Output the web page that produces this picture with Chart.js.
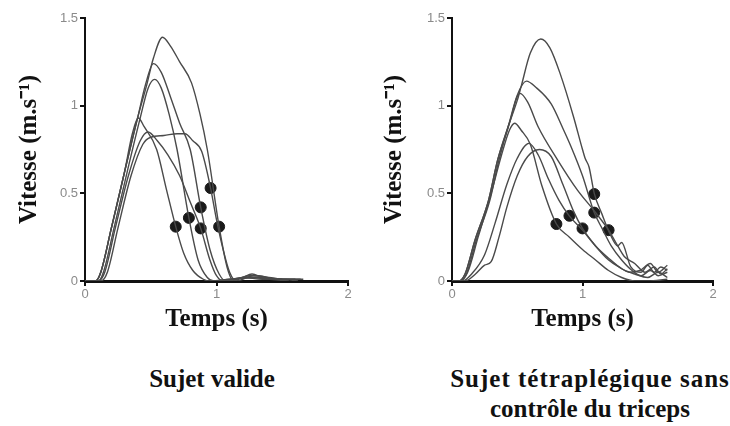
<!DOCTYPE html>
<html>
<head>
<meta charset="utf-8">
<script src="https://cdn.jsdelivr.net/npm/chart.js"></script>
<style>
  body { margin: 0; background: #fff; width: 730px; height: 426px; position: relative; overflow: hidden; }
  .panel { position: absolute; top: 0; width: 365px; height: 345px; }
  .caption { position: absolute; font-family: "Liberation Serif", serif; font-weight: bold; font-size: 25px;
             color: #111; text-align: center; line-height: 30px; white-space: nowrap; }
</style>
</head>
<body>
<div class="panel" style="left:0"><canvas id="chartValide"></canvas></div>
<div class="panel" style="left:365px"><canvas id="chartTetra"></canvas></div>
<div class="caption" style="left:92px; top:364px; width:240px;">Sujet valide</div>
<div class="caption" style="left:430px; top:364px; width:320px;"><span style="letter-spacing:1px">Sujet tétraplégique sans</span><br>contrôle du triceps</div>
<script>
// axis ticks
var xTicks = [0, 1, 2];
var yTicks = [0, 0.5, 1, 1.5];

// Sujet valide : [temps (s), vitesse (m/s)]
var valide1 = [[0,0],[0.08,0],[0.12,0.05],[0.2,0.3],[0.3,0.62],[0.4,0.93],[0.47,1.12],[0.52,1.27],[0.59,1.39],[0.65,1.34],[0.72,1.25],[0.81,1.13],[0.875,0.95],[0.93,0.75],[1.02,0.31],[1.08,0.08],[1.13,0],[1.2,0.02],[1.27,0.04],[1.35,0.02],[1.45,0.01],[1.55,0.01],[1.66,0.01]];
var valide2 = [[0,0],[0.08,0],[0.12,0.05],[0.2,0.3],[0.3,0.62],[0.4,0.93],[0.46,1.12],[0.52,1.24],[0.58,1.19],[0.65,1.05],[0.72,0.9],[0.8,0.75],[0.88,0.42],[0.95,0.18],[1.02,0.04],[1.07,0],[1.15,0.01],[1.25,0.03],[1.32,0.03],[1.45,0.01],[1.6,0.01]];
var valide3 = [[0,0],[0.1,0],[0.14,0.05],[0.22,0.3],[0.32,0.62],[0.42,0.93],[0.48,1.1],[0.53,1.15],[0.58,1.1],[0.64,0.95],[0.7,0.75],[0.79,0.36],[0.86,0.12],[0.93,0.02],[0.98,0],[1.1,0.01],[1.25,0.02],[1.4,0.01],[1.55,0]];
var valide4 = [[0,0],[0.08,0],[0.12,0.05],[0.2,0.3],[0.3,0.62],[0.36,0.84],[0.405,0.93],[0.45,0.88],[0.545,0.75],[0.62,0.52],[0.69,0.31],[0.75,0.16],[0.82,0.06],[0.9,0.01],[0.95,0],[1.1,0.01],[1.3,0.02],[1.5,0.01]];
var valide5 = [[0,0],[0.1,0],[0.15,0.05],[0.23,0.3],[0.33,0.6],[0.42,0.8],[0.48,0.85],[0.55,0.8],[0.63,0.72],[0.72,0.6],[0.8,0.45],[0.88,0.3],[0.95,0.12],[1.0,0.03],[1.05,0],[1.2,0.02],[1.35,0.01],[1.5,0.01],[1.62,0]];
var valide6 = [[0,0],[0.12,0],[0.17,0.05],[0.25,0.3],[0.35,0.6],[0.44,0.78],[0.5,0.82],[0.6,0.83],[0.7,0.84],[0.76,0.84],[0.82,0.8],[0.887,0.74],[0.955,0.53],[1.0,0.35],[1.05,0.18],[1.1,0.05],[1.15,0],[1.28,0.03],[1.4,0.02],[1.52,0.01],[1.64,0.01]];
var valideFinT = [0.69, 0.79, 0.88, 0.88, 0.955, 1.02];
var valideFinV = [0.31, 0.36, 0.42, 0.30, 0.53, 0.31];

// Sujet tétraplégique sans contrôle du triceps
var tetra1 = [[0,0],[0.05,0],[0.1,0.04],[0.175,0.23],[0.28,0.46],[0.35,0.69],[0.43,0.88],[0.5,1.03],[0.53,1.11],[0.6,1.3],[0.68,1.38],[0.75,1.33],[0.83,1.18],[0.93,0.94],[1.0,0.75],[1.02,0.7],[1.05,0.65],[1.09,0.5],[1.15,0.38],[1.21,0.27],[1.27,0.2],[1.3,0.22],[1.37,0.08],[1.45,0.05],[1.5,0.09],[1.55,0.05],[1.6,0.08],[1.65,0.06]];
var tetra2 = [[0,0],[0.05,0],[0.1,0.04],[0.175,0.23],[0.28,0.46],[0.35,0.69],[0.43,0.88],[0.5,1.06],[0.57,1.14],[0.65,1.1],[0.76,1.01],[0.85,0.87],[0.91,0.77],[1.0,0.6],[1.09,0.39],[1.15,0.3],[1.22,0.2],[1.3,0.12],[1.38,0.06],[1.45,0.03],[1.52,0.06],[1.58,0.03],[1.65,0.05]];
var tetra3 = [[0,0],[0.06,0],[0.11,0.04],[0.185,0.23],[0.29,0.46],[0.36,0.69],[0.44,0.9],[0.52,1.07],[0.58,1.02],[0.66,0.88],[0.81,0.69],[0.96,0.52],[1.09,0.4],[1.2,0.29],[1.27,0.2],[1.32,0.14],[1.4,0.1],[1.48,0.05],[1.55,0.08],[1.6,0.04],[1.65,0.07]];
var tetra4 = [[0,0],[0.06,0],[0.12,0.05],[0.2,0.25],[0.3,0.5],[0.38,0.72],[0.44,0.86],[0.48,0.9],[0.53,0.86],[0.6,0.78],[0.69,0.54],[0.8,0.325],[0.9,0.25],[1.0,0.18],[1.1,0.12],[1.2,0.06],[1.3,0.02],[1.4,0],[1.5,0],[1.65,0.01]];
var tetra5 = [[0,0],[0.08,0],[0.15,0.04],[0.25,0.15],[0.33,0.33],[0.42,0.55],[0.5,0.7],[0.59,0.785],[0.66,0.72],[0.74,0.58],[0.82,0.46],[0.9,0.37],[1.0,0.29],[1.1,0.2],[1.2,0.13],[1.3,0.07],[1.4,0.04],[1.5,0.02],[1.58,0.05],[1.65,0.02]];
var tetra6 = [[0,0],[0.1,0],[0.18,0.04],[0.25,0.09],[0.3,0.11],[0.36,0.25],[0.42,0.42],[0.5,0.6],[0.58,0.71],[0.67,0.75],[0.76,0.71],[0.85,0.55],[0.93,0.4],[1.0,0.3],[1.1,0.2],[1.2,0.12],[1.28,0.08],[1.36,0.05],[1.44,0.06],[1.52,0.1],[1.58,0.05],[1.65,0.09]];
var tetraFinT = [0.80, 0.90, 1.0, 1.09, 1.09, 1.20];
var tetraFinV = [0.325, 0.372, 0.30, 0.496, 0.39, 0.29];

function toPoints(pairs) {
    return pairs.map(function (p) { return { x: p[0], y: p[1] }; });
}

function makeChart(id, curves, finT, finV, yAxisWidth) {
    var datasets = curves.map(function (c) {
        return {
            data: toPoints(c),
            borderColor: '#4a4a4a',
            borderWidth: 1.4,
            pointRadius: 0,
            cubicInterpolationMode: 'monotone',
            fill: false
        };
    });
    datasets.push({
        data: finT.map(function (t, i) { return { x: t, y: finV[i] }; }),
        showLine: false,
        pointRadius: 5.5,
        pointBackgroundColor: '#1a1a1a',
        pointBorderColor: '#1a1a1a'
    });

    var ctx = document.getElementById(id).getContext('2d');
    return new Chart(ctx, {
        type: 'line',
        data: { datasets: datasets },
        options: {
            responsive: true,
            maintainAspectRatio: false,
            animation: false,
            layout: { padding: { top: 18, right: 17, left: 0, bottom: 0 } },
            plugins: { legend: { display: false }, tooltip: { enabled: false } },
            scales: {
                x: {
                    type: 'linear',
                    min: 0,
                    max: 2,
                    afterBuildTicks: function (s) { s.ticks = xTicks.map(function (v) { return { value: v }; }); },
                    grid: { drawOnChartArea: false, drawTicks: true, tickLength: 5, color: '#111', lineWidth: 2 },
                    border: { display: true, color: '#111', width: 3 },
                    ticks: { color: '#8a8a8a', font: { family: 'Liberation Sans', size: 13 }, padding: 1,
                             callback: function (v) { return String(v); } },
                    title: {
                        display: true,
                        text: 'Temps (s)',
                        color: '#111',
                        font: { family: 'Liberation Serif', weight: 'bold', size: 25 },
                        padding: { top: 2, bottom: 10 }
                    },
                    afterFit: function (s) { s.height = 64; }
                },
                y: {
                    type: 'linear',
                    min: 0,
                    max: 1.5,
                    afterBuildTicks: function (s) { s.ticks = yTicks.map(function (v) { return { value: v }; }); },
                    grid: { drawOnChartArea: false, drawTicks: true, tickLength: 5, color: '#111', lineWidth: 2 },
                    border: { display: true, color: '#111', width: 2 },
                    ticks: { color: '#8a8a8a', font: { family: 'Liberation Sans', size: 13 }, padding: 2,
                             callback: function (v) { return String(v); } },
                    title: {
                        display: true,
                        text: 'Vitesse (m.s⁻¹)',
                        color: '#111',
                        font: { family: 'Liberation Serif', weight: 'bold', size: 25 },
                        padding: { top: 15, bottom: 4 }
                    },
                    afterFit: function (s) { s.width = yAxisWidth; }
                }
            }
        }
    });
}

window.onload = function () {
    makeChart('chartValide', [valide1, valide2, valide3, valide4, valide5, valide6], valideFinT, valideFinV, 85);
    makeChart('chartTetra', [tetra1, tetra2, tetra3, tetra4, tetra5, tetra6], tetraFinT, tetraFinV, 87);
};
</script>
</body>
</html>
